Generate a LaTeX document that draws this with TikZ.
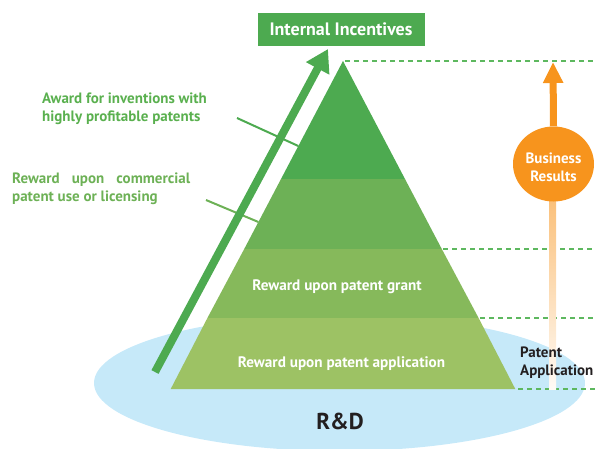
\documentclass[tikz,border=0pt]{standalone}
\usepackage{fontspec}
\setmainfont{PT Sans}
\usetikzlibrary{arrows.meta,shapes.geometric}
\definecolor{tierA}{HTML}{4DAA50}
\definecolor{tierB}{HTML}{6DB156}
\definecolor{tierC}{HTML}{86B95B}
\definecolor{tierD}{HTML}{9DC264}
\definecolor{labelA}{HTML}{5AB04F}
\definecolor{dashgreen}{HTML}{5DB85F}
\definecolor{rdblue}{HTML}{C6E9F9}
\definecolor{bizorange}{HTML}{F7941D}
\definecolor{darktext}{HTML}{231F20}
\tikzset{
  tierlabel/.style={text=white, font=\bfseries\fontsize{15.2}{18}\selectfont, inner sep=0pt},
  sidelabel/.style={font=\bfseries\fontsize{15}{18}\selectfont, inner sep=0pt, anchor=north west},
  guide/.style={dashgreen, line width=1.1pt, dash pattern=on 5pt off 4pt},
  pointer/.style={line width=2pt},
}
\begin{document}
\begin{tikzpicture}[x=1pt,y=-1pt]
\useasboundingbox (0,0) rectangle (595,448);
% R&D ellipse
\fill[rdblue] (339.5,383) ellipse [x radius=245.5, y radius=68];
% pyramid tiers
\fill[tierA] (343,61) -- (405.0,179) -- (281.0,179) -- cycle;
\fill[tierB] (281.0,179) -- (405.0,179) -- (441.8,249) -- (244.2,249) -- cycle;
\fill[tierC] (244.2,249) -- (441.8,249) -- (478.6,318) -- (207.4,318) -- cycle;
\fill[tierD] (207.4,318) -- (478.6,318) -- (515.3,389) -- (170.7,389) -- cycle;
% guide lines
\draw[guide] (345,61) -- (595,61);
\draw[guide] (443,249) -- (595,249);
\draw[guide] (480,318) -- (595,318);
\draw[guide] (518,389) -- (595,389);
% orange shaft below the circle
\shade[top color=bizorange!60!white, bottom color=bizorange!4!white] (549,195) rectangle (556,389);
% nodes
\node[fill=tierA, minimum width=167pt, minimum height=33pt, inner sep=0pt, text=white,
      font=\bfseries\fontsize{18}{20}\selectfont] (incent) at (341,29) {Internal Incentives};
\node[tierlabel] (grant) at (337,287) {Reward upon patent grant};
\node[tierlabel] (appl) at (341.5,364) {Reward upon patent application};
\node[font=\bfseries\fontsize{23}{26}\selectfont, text=darktext, inner sep=0pt] (rd) at (340,421) {R\&D};
\node[sidelabel, text=labelA, align=left] (award) at (42,93) {Award for inventions with\\highly profitable patents};
\node[sidelabel, text=tierB, text width=178pt, align=justify] (reward) at (12,173) {Reward upon commercial\linebreak patent use or licensing};
\node[sidelabel, text=darktext, align=left] (patappl) at (520,347) {Patent\\Application};
% pointer lines
\coordinate (pA) at (298.3,146);
\coordinate (pB) at (258.4,222);
\coordinate (pAs) at (237,118);
\coordinate (pBs) at (206,200);
\draw[pointer, tierA] (pAs) -- (pA);
\draw[pointer, tierB] (pBs) -- (pB);
% big green arrow
\coordinate (gA) at (155,372);
\coordinate (gB) at (328,49);
\draw[tierA, line width=8pt, -{Triangle[width=25pt,length=22pt]}] (gA) -- (gB);
% orange circle and arrow
\node[ellipse, fill=bizorange, minimum width=81pt, minimum height=75pt, inner sep=0pt] (biz) at (553.5,164) {};
\node[text=white, align=center, inner sep=0pt, font=\bfseries\fontsize{15}{18}\selectfont] (biztext) at (553.5,167) {Business\\Results};
\coordinate (bizTip) at (553,62);
\draw[bizorange, line width=7pt, -{Triangle[width=19pt,length=21pt]}] (biz.north) -- (bizTip);
\end{tikzpicture}
\end{document}
